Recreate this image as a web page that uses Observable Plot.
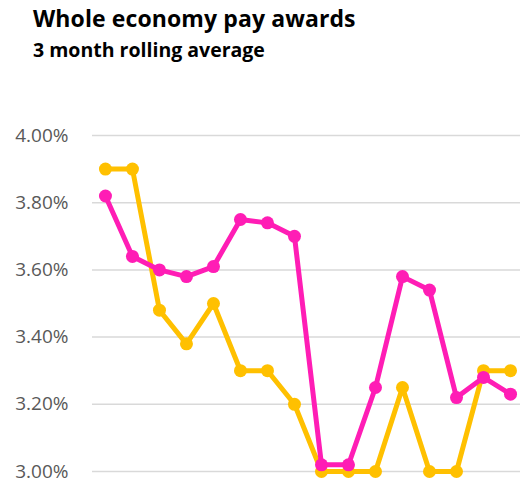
<!DOCTYPE html>
<html>
<head>
<meta charset="utf-8">
<script src="https://cdn.jsdelivr.net/npm/d3@7"></script>
<script src="https://cdn.jsdelivr.net/npm/@observablehq/plot@0.6"></script>
<style>
  body { margin: 0; background: #fff; width: 520px; height: 481px; overflow: hidden; }
  #title { position: absolute; left: 33px; top: 2px; font: bold 23px "Open Sans", sans-serif; color: #000; white-space: nowrap; letter-spacing: 0.1px; }
  #subtitle { position: absolute; left: 33px; top: 36px; font: bold 19.5px "Open Sans", sans-serif; color: #000; white-space: nowrap; }
  #chart { position: absolute; left: 0; top: 80px; }
</style>
</head>
<body>
<div id="title">Whole economy pay awards</div>
<div id="subtitle">3 month rolling average</div>
<div id="chart"></div>
<script>
const periods = d3.range(16);
const seriesPink = [3.82, 3.64, 3.60, 3.58, 3.61, 3.75, 3.74, 3.70, 3.02, 3.02, 3.25, 3.58, 3.54, 3.22, 3.28, 3.23];
const seriesGold = [3.90, 3.90, 3.48, 3.38, 3.50, 3.30, 3.30, 3.20, 3.00, 3.00, 3.00, 3.25, 3.00, 3.00, 3.30, 3.30];
const yTicks = [3.0, 3.2, 3.4, 3.6, 3.8, 4.0];

const gold = periods.map((i) => ({i, v: seriesGold[i]}));
const pink = periods.map((i) => ({i, v: seriesPink[i]}));

const chart = Plot.plot({
  width: 520,
  height: 401,
  marginLeft: 92,
  marginRight: 0,
  marginTop: 55,
  marginBottom: 10,
  style: {fontFamily: "'Open Sans', sans-serif", fontSize: "19px", color: "#595959", background: "#fff", overflow: "visible"},
  x: {domain: [-0.48, 15.37], axis: null},
  y: {domain: [3.0, 4.0], ticks: yTicks, tickFormat: (d) => d.toFixed(2) + "%", tickSize: 0, tickPadding: 24, label: null},
  marks: [
    Plot.ruleY(yTicks, {stroke: "#d9d9d9", strokeWidth: 1.5}),
    Plot.line(gold, {x: "i", y: "v", stroke: "#FFC000", strokeWidth: 5}),
    Plot.dot(gold, {x: "i", y: "v", fill: "#FFC000", r: 6.5}),
    Plot.line(pink, {x: "i", y: "v", stroke: "#FF1DB5", strokeWidth: 5}),
    Plot.dot(pink, {x: "i", y: "v", fill: "#FF1DB5", r: 6.5})
  ]
});
document.getElementById("chart").appendChild(chart);
</script>
</body>
</html>
